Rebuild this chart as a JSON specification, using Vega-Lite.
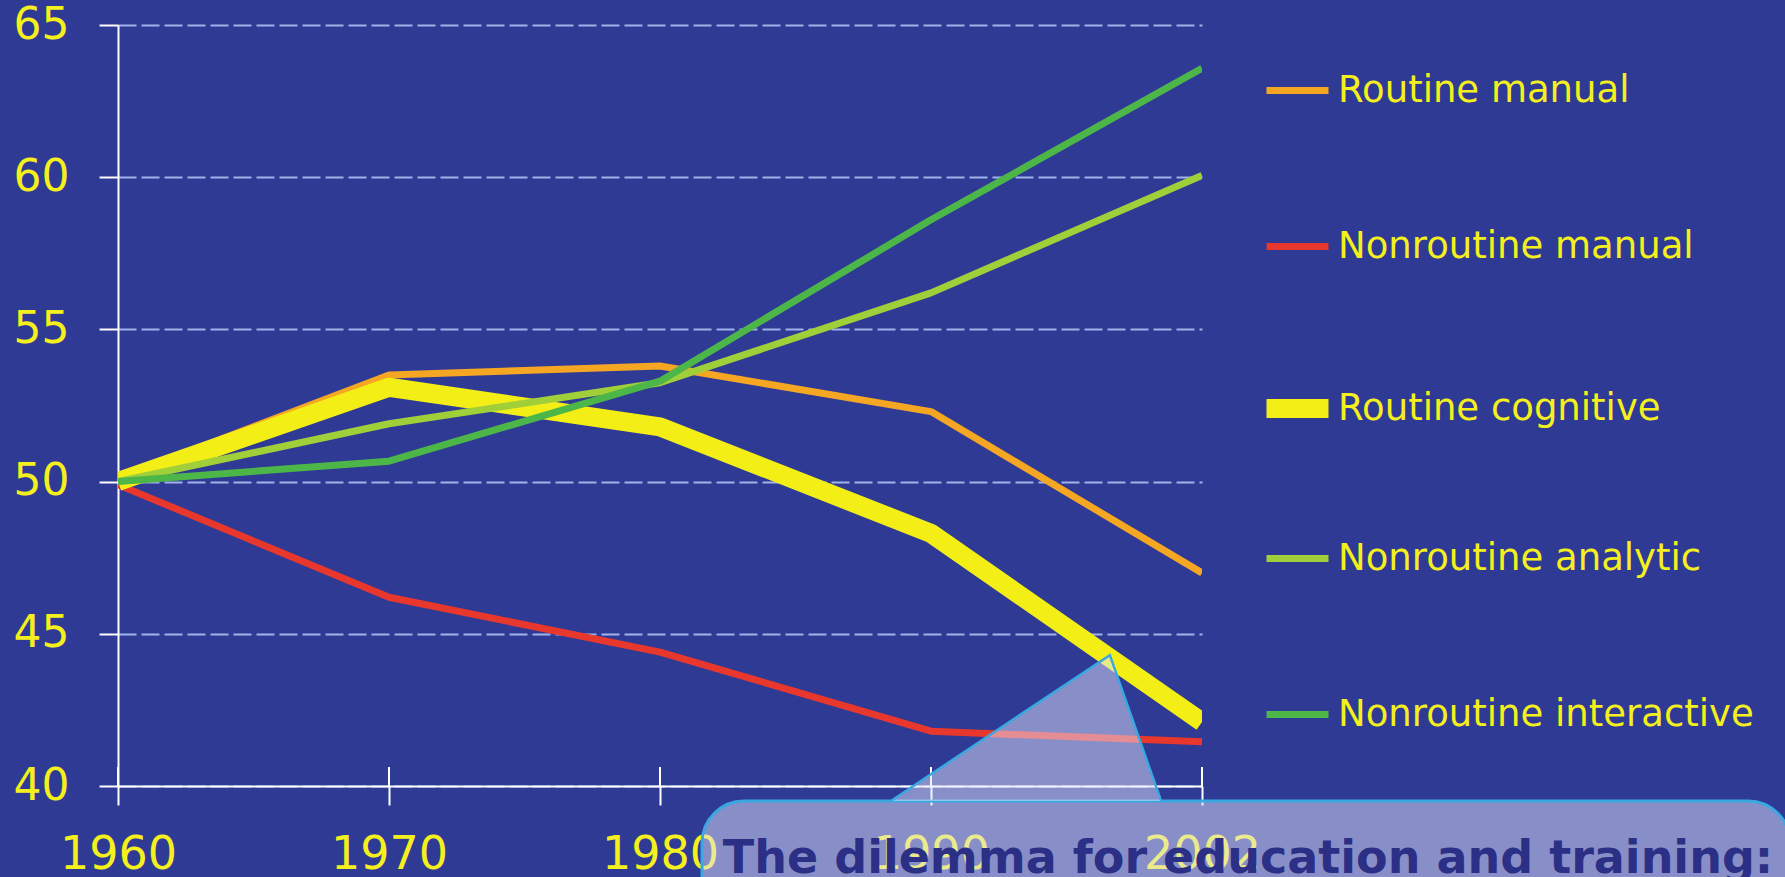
{
  "$schema": "https://vega.github.io/schema/vega-lite/v6.json",
  "width": 1084,
  "height": 761,
  "autosize": {"type": "none"},
  "padding": {"left": 118, "top": 25, "right": 583, "bottom": 91},
  "background": "#2f3a95",
  "config": {"view": {"stroke": null}, "font": "DejaVu Sans"},
  "datasets": {
    "tasks": [
      {"Year": 1960, "Series": "Routine manual", "Value": 50.1},
      {"Year": 1970, "Series": "Routine manual", "Value": 53.5},
      {"Year": 1980, "Series": "Routine manual", "Value": 53.8},
      {"Year": 1990, "Series": "Routine manual", "Value": 52.3},
      {"Year": 2002, "Series": "Routine manual", "Value": 47.0},
      {"Year": 1960, "Series": "Nonroutine manual", "Value": 49.9},
      {"Year": 1970, "Series": "Nonroutine manual", "Value": 46.2},
      {"Year": 1980, "Series": "Nonroutine manual", "Value": 44.4},
      {"Year": 1990, "Series": "Nonroutine manual", "Value": 41.8},
      {"Year": 2002, "Series": "Nonroutine manual", "Value": 41.45},
      {"Year": 1960, "Series": "Routine cognitive", "Value": 50.0},
      {"Year": 1970, "Series": "Routine cognitive", "Value": 53.1},
      {"Year": 1980, "Series": "Routine cognitive", "Value": 51.8},
      {"Year": 1990, "Series": "Routine cognitive", "Value": 48.3},
      {"Year": 2002, "Series": "Routine cognitive", "Value": 42.1},
      {"Year": 1960, "Series": "Nonroutine analytic", "Value": 50.0},
      {"Year": 1970, "Series": "Nonroutine analytic", "Value": 51.9},
      {"Year": 1980, "Series": "Nonroutine analytic", "Value": 53.25},
      {"Year": 1990, "Series": "Nonroutine analytic", "Value": 56.2},
      {"Year": 2002, "Series": "Nonroutine analytic", "Value": 60.06},
      {"Year": 1960, "Series": "Nonroutine interactive", "Value": 50.0},
      {"Year": 1970, "Series": "Nonroutine interactive", "Value": 50.67},
      {"Year": 1980, "Series": "Nonroutine interactive", "Value": 53.3},
      {"Year": 1990, "Series": "Nonroutine interactive", "Value": 58.6},
      {"Year": 2002, "Series": "Nonroutine interactive", "Value": 63.58}
    ],
    "pointer": [
      {"px": 1988.52, "py": 39.51},
      {"px": 1996.6, "py": 44.3},
      {"px": 1998.49, "py": 39.51}
    ]
  },
  "layer": [
    {
      "data": {"name": "tasks"},
      "layer": [
        {
          "mark": {"type": "rule", "color": "white", "strokeWidth": 2},
          "encoding": {
            "x": {"field": "Year", "type": "ordinal", "scale": {"type": "point", "padding": 0}},
            "y": {"datum": 40},
            "y2": {"datum": 40.62}
          }
        },
        {
          "mark": {"type": "line", "clip": true, "strokeCap": "butt", "strokeJoin": "round"},
          "encoding": {
            "x": {
              "field": "Year", "type": "ordinal",
              "scale": {"type": "point", "padding": 0},
              "axis": {
                "title": null, "labelAngle": 0, "labelAlign": "center", "labelFlush": false, "grid": false, "zindex": 0,
                "domainColor": "white", "domainWidth": 2,
                "tickColor": "white", "tickWidth": 2, "tickSize": 19,
                "labelColor": "#f5f01c", "labelFontSize": 46, "labelPadding": 49,
                "labelFont": "DejaVu Sans"
              }
            },
            "y": {
              "field": "Value", "type": "quantitative",
              "scale": {"domain": [40, 65], "nice": false, "zero": false},
              "axis": {
                "title": null, "values": [40, 45, 50, 55, 60, 65], "zindex": 0,
                "domainColor": "white", "domainWidth": 2,
                "tickColor": "white", "tickWidth": 2, "tickSize": 19,
                "labelColor": "#f5f01c", "labelFontSize": 44, "labelPadding": 30,
                "labelFont": "DejaVu Sans",
                "grid": true, "gridColor": "#a0b4ea", "gridDash": [18, 5], "gridWidth": 2
              }
            },
            "color": {
              "field": "Series", "type": "ordinal",
              "scale": {
                "domain": ["Routine manual", "Nonroutine manual", "Routine cognitive", "Nonroutine analytic", "Nonroutine interactive"],
                "range": ["#f5a623", "#e8372c", "#f2ee16", "#a0cf3a", "#4cb748"]
              },
              "legend": {
                "orient": "none", "legendX": 1139, "legendY": 31, "title": null,
                "symbolType": "stroke", "symbolSize": 3844, "gridAlign": "all",
                "labelColor": "#f5f01c", "labelFontSize": 37, "labelFont": "DejaVu Sans",
                "labelOffset": 0, "rowPadding": 77, "padding": 0, "labelLimit": 600
              }
            },
            "strokeWidth": {
              "field": "Series", "type": "ordinal",
              "scale": {
                "type": "ordinal",
                "domain": ["Routine manual", "Nonroutine manual", "Routine cognitive", "Nonroutine analytic", "Nonroutine interactive"],
                "range": [7, 7, 19, 7, 7]
              },
              "legend": {
                "orient": "none", "legendX": 1139, "legendY": 31, "title": null,
                "symbolType": "stroke", "symbolSize": 3844, "gridAlign": "all",
                "labelColor": "#f5f01c", "labelFontSize": 37, "labelFont": "DejaVu Sans",
                "labelOffset": 0, "rowPadding": 77, "padding": 0, "labelLimit": 600
              }
            }
          }
        }
      ]
    },
    {
      "layer": [
        {
          "data": {"values": [{}]},
          "mark": {"type": "rect", "fill": "#e2e4fb", "fillOpacity": 0.5, "stroke": "#3aa8e0", "strokeWidth": 3, "cornerRadius": 42},
          "encoding": {
            "x": {"datum": 1981.55, "type": "quantitative", "scale": {"domain": [1960, 2000]}, "axis": null},
            "x2": {"datum": 2021.7},
            "y": {"datum": 39.51, "type": "quantitative"},
            "y2": {"datum": 35.2}
          }
        },
        {
          "data": {"name": "pointer"},
          "mark": {"type": "area", "fill": "#e2e4fb", "fillOpacity": 0.5, "orient": "vertical"},
          "encoding": {
            "x": {"field": "px", "type": "quantitative", "axis": null},
            "y": {"field": "py", "type": "quantitative"},
            "y2": {"datum": 39.51}
          }
        },
        {
          "data": {"name": "pointer"},
          "mark": {"type": "line", "stroke": "#3aa8e0", "strokeWidth": 2.5},
          "encoding": {
            "x": {"field": "px", "type": "quantitative", "axis": null},
            "y": {"field": "py", "type": "quantitative"}
          }
        },
        {
          "data": {"values": [{}]},
          "mark": {"type": "text", "text": "The dilemma for education and training:", "align": "left", "baseline": "alphabetic", "font": "DejaVu Sans", "fontWeight": "bold", "fontSize": 46, "color": "#2c2f86"},
          "encoding": {
            "x": {"datum": 1982.32, "type": "quantitative", "axis": null},
            "y": {"datum": 37.14, "type": "quantitative"}
          }
        }
      ]
    }
  ],
  "resolve": {"scale": {"x": "independent"}}
}
